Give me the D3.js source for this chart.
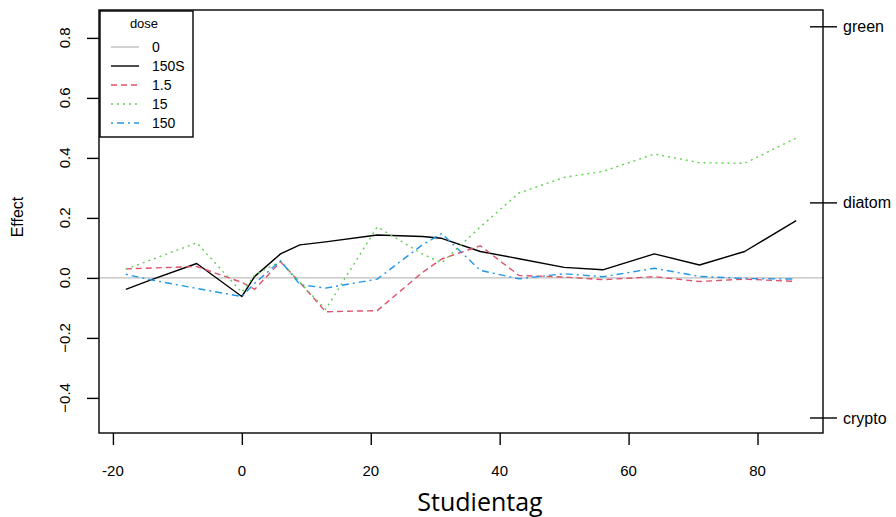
<!DOCTYPE html>
<html>
<head>
<meta charset="utf-8">
<script src="https://cdn.jsdelivr.net/npm/d3@7"></script>
<style>
  html, body { margin: 0; padding: 0; background: #ffffff; }
  svg { display: block; }
</style>
</head>
<body>
<svg id="chart" width="896" height="517"></svg>
<script>
// ---------- data ----------
const days = [-18, -14, -7, 0, 2, 6, 9, 13, 21, 28, 31, 37, 43, 50, 56, 64, 71, 78, 86];
const dose150S = [-0.038, -0.006, 0.048, -0.062, 0.005, 0.080, 0.110, 0.120, 0.143, 0.138, 0.132, 0.088, 0.064, 0.035, 0.027, 0.080, 0.043, 0.088, 0.191];
const dose1_5  = [0.030, 0.033, 0.038, -0.015, -0.038, 0.054, -0.015, -0.113, -0.109, 0.018, 0.063, 0.107, 0.008, 0.003, -0.006, 0.004, -0.012, -0.004, -0.012];
const dose15   = [0.029, 0.061, 0.117, -0.048, 0.010, 0.055, -0.015, -0.105, 0.170, 0.080, 0.050, 0.170, 0.283, 0.335, 0.355, 0.413, 0.384, 0.382, 0.466];
const dose150  = [0.012, -0.007, -0.035, -0.062, -0.018, 0.057, -0.022, -0.034, -0.004, 0.110, 0.148, 0.025, -0.003, 0.014, 0.004, 0.032, 0.005, -0.002, -0.004];
const controlLevel = 0;

const legendLabels = ["0", "150S", "1.5", "15", "150"];
const legendTitle = "dose";
const yTicks = [-0.4, -0.2, 0.0, 0.2, 0.4, 0.6, 0.8];
const xTicks = [-20, 0, 20, 40, 60, 80];
const speciesNames = ["green", "diatom", "crypto"];
const speciesScores = [0.837, 0.25, -0.467];
const xLabel = "Studientag";
const yLabel = "Effect";

// ---------- styles ----------
const seriesDefs = [
  { name: "150S", values: dose150S, color: "#000000", dash: null },
  { name: "1.5",  values: dose1_5,  color: "#DF536B", dash: "6,4" },
  { name: "15",   values: dose15,   color: "#61D04F", dash: "2,4" },
  { name: "150",  values: dose150,  color: "#2297E6", dash: "2,4,7,4" }
];
const legendStyles = [
  { color: "#BEBEBE", dash: null },
  { color: "#000000", dash: null },
  { color: "#DF536B", dash: "6,4" },
  { color: "#61D04F", dash: "2,4" },
  { color: "#2297E6", dash: "2,4,7,4" }
];

const box = { left: 99, right: 823, top: 10, bottom: 433 };
const svg = d3.select("#chart");
const FONT = "'Liberation Sans', Arial, sans-serif";

const x = d3.scaleLinear().domain([-22.16, 90.16]).range([box.left, box.right]);
const y = d3.scaleLinear().domain([-0.517, 0.893]).range([box.bottom, box.top]);

// control line (dose 0) across plot
svg.append("line")
  .attr("x1", x(x.domain()[0])).attr("x2", x(x.domain()[1]))
  .attr("y1", y(controlLevel)).attr("y2", y(controlLevel))
  .attr("stroke", "#BEBEBE").attr("stroke-width", 1.4);

// series lines
const line = d3.line().x((d, i) => x(days[i])).y(d => y(d));
seriesDefs.forEach(s => {
  svg.append("path")
    .datum(s.values)
    .attr("d", line)
    .attr("fill", "none")
    .attr("stroke", s.color)
    .attr("stroke-width", 1.4)
    .attr("stroke-dasharray", s.dash)
    .attr("stroke-linejoin", "round");
});

// box
svg.append("rect")
  .attr("x", box.left).attr("y", box.top)
  .attr("width", box.right - box.left).attr("height", box.bottom - box.top)
  .attr("fill", "none").attr("stroke", "#000").attr("stroke-width", 1.4);

// left axis
const yAxis = d3.axisLeft(y).tickValues(yTicks).tickSize(12).tickSizeOuter(0).tickFormat("");
const gy = svg.append("g").attr("transform", `translate(${box.left},0)`).call(yAxis);
gy.select(".domain").remove();
gy.selectAll(".tick line").attr("stroke", "#000").attr("stroke-width", 1.4);
svg.append("g").selectAll("text").data(yTicks).join("text")
  .attr("transform", d => `translate(70,${y(d)}) rotate(-90)`)
  .attr("text-anchor", "middle")
  .attr("font-family", FONT).attr("font-size", 15).attr("fill", "#000")
  .text(d => d3.format(".1f")(d));

// bottom axis
const xAxis = d3.axisBottom(x).tickValues(xTicks).tickSize(12).tickSizeOuter(0).tickFormat("");
const gx = svg.append("g").attr("transform", `translate(0,${box.bottom})`).call(xAxis);
gx.select(".domain").remove();
gx.selectAll(".tick line").attr("stroke", "#000").attr("stroke-width", 1.4);
svg.append("g").selectAll("text").data(xTicks).join("text")
  .attr("x", d => x(d)).attr("y", 476)
  .attr("text-anchor", "middle")
  .attr("font-family", FONT).attr("font-size", 15).attr("fill", "#000")
  .text(d => d);

// right species axis
const gs = svg.append("g");
gs.selectAll("line").data(speciesScores).join("line")
  .attr("x1", 810).attr("x2", 837)
  .attr("y1", d => y(d)).attr("y2", d => y(d))
  .attr("stroke", "#000").attr("stroke-width", 1.4);
gs.selectAll("text").data(speciesNames).join("text")
  .attr("x", 843).attr("y", (d, i) => y(speciesScores[i]))
  .attr("dominant-baseline", "central")
  .attr("font-family", FONT).attr("font-size", 16).attr("fill", "#000")
  .text(d => d);

// axis titles
svg.append("text")
  .attr("transform", "translate(23,217) rotate(-90)")
  .attr("text-anchor", "middle")
  .attr("font-family", FONT).attr("font-size", 16).attr("fill", "#000")
  .text(yLabel);
svg.append("text")
  .attr("x", 480).attr("y", 511)
  .attr("text-anchor", "middle")
  .attr("font-family", "'Open Sans', 'Noto Sans', sans-serif").attr("font-size", 25).attr("fill", "#000")
  .text(xLabel);

// legend
const lg = svg.append("g");
lg.append("rect")
  .attr("x", 100).attr("y", 11).attr("width", 93).attr("height", 126)
  .attr("fill", "#fff").attr("stroke", "#000").attr("stroke-width", 1.4);
lg.append("text")
  .attr("x", 144).attr("y", 23).attr("dominant-baseline", "central")
  .attr("text-anchor", "middle")
  .attr("font-family", FONT).attr("font-size", 13).attr("fill", "#000")
  .text(legendTitle);
legendLabels.forEach((lab, i) => {
  const yy = 47 + i * 19;
  lg.append("line")
    .attr("x1", 111).attr("x2", 139).attr("y1", yy).attr("y2", yy)
    .attr("stroke", legendStyles[i].color).attr("stroke-width", 1.4)
    .attr("stroke-dasharray", legendStyles[i].dash);
  lg.append("text")
    .attr("x", 152).attr("y", yy).attr("dominant-baseline", "central")
    .attr("font-family", FONT).attr("font-size", 14).attr("fill", "#000")
    .text(lab);
});
</script>
</body>
</html>
